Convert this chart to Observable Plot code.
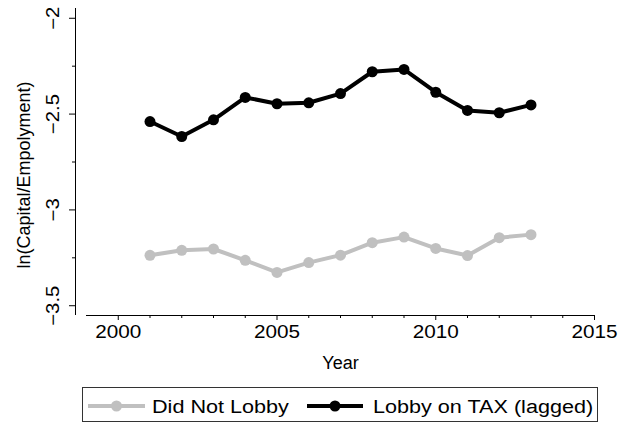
<!DOCTYPE html>
<html><head><meta charset="utf-8">
<script src="https://cdn.jsdelivr.net/npm/d3@7"></script>
<script src="https://cdn.jsdelivr.net/npm/@observablehq/plot@0.6"></script>
<style>body{margin:0;background:#fff;} svg{display:block;}</style>
</head><body><div id="chart"></div>
<script>
// ---- data ----
const years = [2001, 2002, 2003, 2004, 2005, 2006, 2007, 2008, 2009, 2010, 2011, 2012, 2013];
const didNotLobby = [-3.237, -3.211, -3.204, -3.263, -3.326, -3.275, -3.236, -3.171, -3.142, -3.201, -3.238, -3.145, -3.129];
const lobbyTax = [-2.539, -2.617, -2.530, -2.413, -2.446, -2.441, -2.393, -2.279, -2.267, -2.386, -2.481, -2.493, -2.452];
const seriesNames = ["Did Not Lobby", "Lobby on TAX (lagged)"];
const seriesColors = ["#c0c0c0", "#000000"];
const xTicks = [2000, 2005, 2010, 2015];
const xMinorTicks = [2001, 2002, 2003, 2004, 2006, 2007, 2008, 2009, 2011, 2012, 2013, 2014];
const yTicks = [-3.5, -3, -2.5, -2];
const yMinorTicks = [-3.25, -2.75, -2.25];
const xDomain = [1999, 2015];
const yDomain = [-3.551, -1.949];
const xTitle = "Year";
const yTitle = "ln(Capital/Empolyment)";

const seriesValues = [didNotLobby, lobbyTax];
const data = seriesNames.flatMap((name, s) => years.map((year, i) => ({year, value: seriesValues[s][i], series: name})));

const font = "'Liberation Sans', Arial, Helvetica, sans-serif";
const fmtY = d => String(d).replace("-", "\u2212");

const plot = Plot.plot({
  width: 632, height: 385,
  marginTop: 8, marginBottom: 70, marginLeft: 75, marginRight: 38,
  style: {fontFamily: font, fontSize: "18px", color: "#000", background: "#fff"},
  x: {domain: xDomain, insetLeft: 11},
  y: {domain: yDomain},
  color: {domain: seriesNames, range: seriesColors},
  marks: [
    Plot.ruleY([yDomain[0]], {x1: xDomain[0], x2: xDomain[1], stroke: "#000"}),
    Plot.ruleX([xDomain[0]], {y1: yDomain[0], y2: yDomain[1], dx: -11, stroke: "#000"}),
    Plot.axisX({ticks: xTicks, tickSize: 5, tickPadding: 5, tickFormat: d => String(d), label: null}),
    Plot.axisX({ticks: xMinorTicks, tickSize: 3, tickFormat: () => "", label: null}),
    Plot.axisY({ticks: yTicks, tickSize: 6, tickPadding: 11, tickRotate: -90, tickFormat: fmtY, label: null}),
    Plot.axisY({ticks: yMinorTicks, tickSize: 3, tickFormat: () => "", label: null}),
    Plot.text([yTitle], {frameAnchor: "left", rotate: -90, dx: -46, dy: 13, textAnchor: "middle", lineAnchor: "bottom", text: d => d, ariaLabel: "y-title"}),
    Plot.text([xTitle], {x: () => d3.mean(xDomain), frameAnchor: "bottom", dy: 41, textAnchor: "middle", lineAnchor: "top", text: d => d, ariaLabel: "x-title"}),
    Plot.line(data, {x: "year", y: "value", z: "series", stroke: "series", strokeWidth: 4}),
    Plot.dot(data, {x: "year", y: "value", fill: "series", r: 5.5})
  ]
});
document.getElementById("chart").appendChild(plot);

// ---- legend (below the chart) ----
const leg = d3.create("svg").attr("width", 632).attr("height", 40)
  .style("font-family", font).style("font-size", "18px");
leg.append("rect").attr("x", 82.5).attr("y", 2.5).attr("width", 515).attr("height", 34)
  .attr("fill", "none").attr("stroke", "#333");
const legPos = [{x0: 88, x1: 145, tx: 152}, {x0: 307, x1: 363, tx: 373}];
seriesNames.forEach((name, i) => {
  const p = legPos[i];
  leg.append("line").attr("x1", p.x0).attr("x2", p.x1).attr("y1", 21).attr("y2", 21)
    .attr("stroke", seriesColors[i]).attr("stroke-width", 4);
  leg.append("circle").attr("cx", (p.x0 + p.x1) / 2).attr("cy", 21).attr("r", 5.5).attr("fill", seriesColors[i]);
  leg.append("text").attr("class", "legtext").attr("x", p.tx).attr("y", 27.5).attr("fill", "#000").text(name);
});
document.getElementById("chart").appendChild(leg.node());

// ---- widen text glyphs to match the reference's wide lettering ----
function stretch(root, sel, k) {
  root.querySelectorAll(sel).forEach(t => {
    const L = t.getComputedTextLength();
    if (L > 0) { t.setAttribute("textLength", L * k); t.setAttribute("lengthAdjust", "spacingAndGlyphs"); }
  });
}
stretch(plot, 'g[aria-label="x-axis tick label"] text', 1.15);
stretch(plot, 'g[aria-label="y-axis tick label"] text', 1.13);
stretch(plot, 'g[aria-label="x-title"] text', 1.24);
stretch(plot, 'g[aria-label="y-title"] text', 1.5);
stretch(leg.node(), 'text.legtext', 1.2);
</script>
</body></html>
